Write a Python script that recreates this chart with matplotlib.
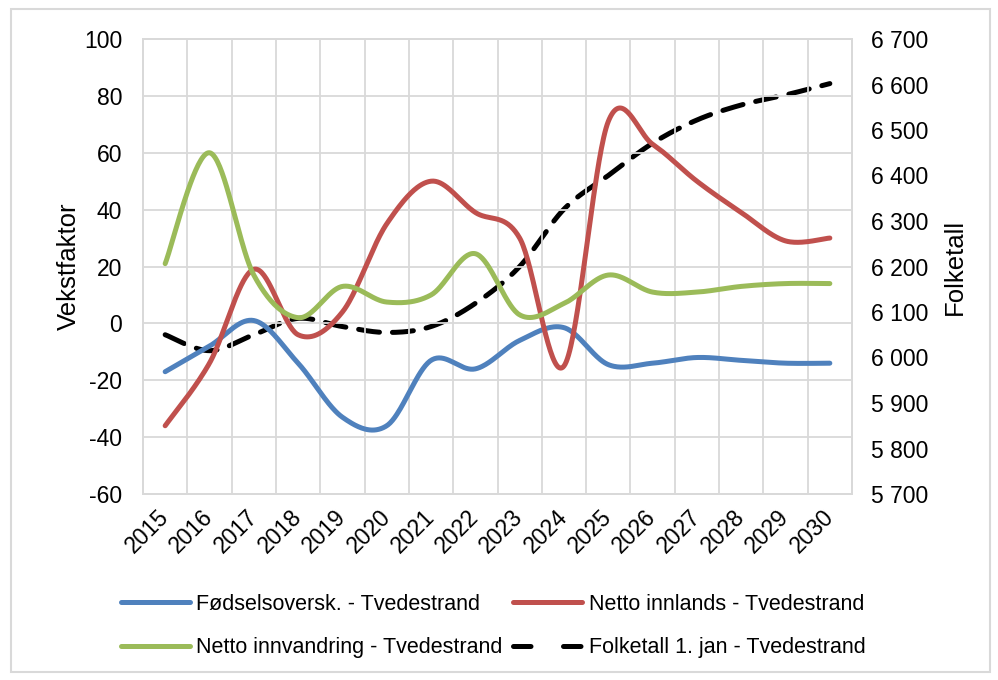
import matplotlib
matplotlib.use("Agg")
import matplotlib.pyplot as plt
import numpy as np
from matplotlib.lines import Line2D
from matplotlib.patches import Rectangle
from matplotlib.ticker import FuncFormatter, MultipleLocator

plt.rcParams["axes.unicode_minus"] = False

years = [str(y) for y in range(2015, 2031)]

fodsel = [-17, -8, 1, -14, -33, -36, -13, -16, -6, -1.5, -14.5, -14, -12, -13, -14, -14]
innlands = [-36, -14, 19, -4, 4, 35, 50, 39, 30, -15, 71, 63, 50, 39, 29, 30]
innvandring = [21, 60, 17, 2, 13, 7.5, 10, 24.5, 3, 7, 17, 11, 11, 13, 14, 14]
folketall = [6050, 6015, 6050, 6086, 6068, 6055, 6068, 6119, 6200, 6326, 6400, 6471,
             6522, 6555, 6577, 6602]

labels = ["Fødselsoversk. - Tvedestrand", "Netto innlands - Tvedestrand",
          "Netto innvandring - Tvedestrand", "Folketall 1. jan - Tvedestrand"]

BLUE = "#4F81BD"
RED = "#C0504D"
GREEN = "#9BBB59"
GRID = "#D9D9D9"

TICK_FONT = ["Liberation Sans", "DejaVu Sans"]
LEGEND_FONT = ["Liberation Sans", "DejaVu Sans"]


def smooth(values, steps=40):
    """Excel-style smoothed line (Catmull-Rom through the points)."""
    y = np.asarray(values, dtype=float)
    x = np.arange(len(y), dtype=float)
    p = np.column_stack([x, y])
    p = np.vstack([p[0], p, p[-1]])
    t = np.linspace(0, 1, steps)[:, None]
    out = []
    for i in range(1, len(p) - 2):
        p0, p1, p2, p3 = p[i - 1], p[i], p[i + 1], p[i + 2]
        b1 = p1 + (p2 - p0) / 6.0
        b2 = p2 - (p3 - p1) / 6.0
        seg = ((1 - t) ** 3) * p1 + 3 * ((1 - t) ** 2) * t * b1 \
            + 3 * (1 - t) * t ** 2 * b2 + t ** 3 * p2
        out.append(seg if i == 1 else seg[1:])
    out = np.vstack(out)
    return out[:, 0], out[:, 1]


fig = plt.figure(figsize=(9.98, 6.8), dpi=100)
ax = fig.add_axes([143 / 998, 1 - 494 / 680, 709 / 998, 455 / 680])
ax2 = ax.twinx()

# chart area border
fig.patches.append(Rectangle((11 / 998, 1 - 672 / 680), 979 / 998, 663 / 680,
                             transform=fig.transFigure, fill=False,
                             edgecolor=GRID, lw=1.5, zorder=0))

lw = 3.6
for vals, c in [(fodsel, BLUE), (innlands, RED), (innvandring, GREEN)]:
    xs, ys = smooth(vals)
    ax.plot(xs, ys, color=c, lw=lw, solid_capstyle="round", zorder=3)

xs, ys = smooth(folketall)
ax2.plot(xs, ys, color="black", lw=lw, dashes=(4.2, 2.6), dash_capstyle="round",
         zorder=4)
ax.set_zorder(ax2.get_zorder() + 1)
ax.patch.set_visible(False)

ax.set_xlim(-0.5, len(years) - 0.5)
ax.set_ylim(-60, 100)
ax.yaxis.set_major_locator(MultipleLocator(20))
ax2.set_ylim(5700, 6700)
ax2.yaxis.set_major_locator(MultipleLocator(100))
ax2.yaxis.set_major_formatter(FuncFormatter(lambda v, p: f"{int(v):,}".replace(",", " ")))

ax.set_xticks(range(len(years)))
ax.set_xticklabels(years, rotation=45, ha="right", va="center",
                   rotation_mode="anchor", family=TICK_FONT, fontsize=16.5)
ax.set_xticks(np.arange(-0.5, len(years), 1), minor=True)
ax.grid(which="minor", axis="x", color=GRID, lw=1.3)
ax.grid(which="major", axis="y", color=GRID, lw=1.3)
ax.tick_params(axis="x", which="both", length=0, pad=14)
ax.tick_params(axis="y", length=0, pad=15)
ax2.tick_params(axis="y", length=0, pad=14)
for a in (ax, ax2):
    for s in a.spines.values():
        s.set_color(GRID)
        s.set_linewidth(1.3)
for lab in ax.get_yticklabels() + ax2.get_yticklabels():
    lab.set_family(TICK_FONT)
    lab.set_fontsize(16.5)

ax.set_ylabel("Vekstfaktor", family=TICK_FONT, fontsize=18.5, labelpad=2)
ax2.set_ylabel("Folketall", family=TICK_FONT, fontsize=18.5, rotation=90,
               labelpad=10)

handles = [
    Line2D([], [], color=BLUE, lw=lw, solid_capstyle="round"),
    Line2D([], [], color=GREEN, lw=lw, solid_capstyle="round"),
    Line2D([], [], color=RED, lw=lw, solid_capstyle="round"),
    Line2D([], [], color="black", lw=lw, dashes=(3.5, 6.5), dash_capstyle="round"),
]
order = [0, 2, 1, 3]
fig.legend(handles, [labels[i] for i in order], ncol=2, loc="center",
           bbox_to_anchor=(493 / 998, 1 - 626 / 680), frameon=False,
           prop={"family": LEGEND_FONT, "size": 15.5}, handlelength=3.2,
           handletextpad=0.3, columnspacing=0.5, labelspacing=1.05)

fig.savefig("out.png", dpi=100)
